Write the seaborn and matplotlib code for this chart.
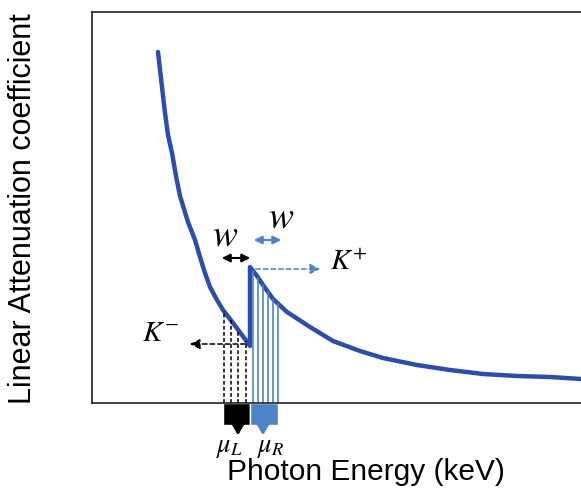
import numpy as np
import matplotlib
matplotlib.use("Agg")
import matplotlib.pyplot as plt
import seaborn as sns

# ---- data (arbitrary units) ----
left_E = [66, 70, 73, 76, 80, 84, 88, 96, 103, 108, 113, 118, 125, 131, 141, 150, 158]
left_mu = [351, 316, 290, 268, 250, 227, 207, 181, 163, 146, 130, 116, 103, 93, 80, 68, 57]
right_E = [158, 165, 171, 181, 195, 218, 241, 268, 291, 325, 358, 391, 425, 458, 489]
right_mu = [136, 127, 118, 104, 91, 76, 62, 52, 45, 38, 33, 29, 27, 26, 24]
left_bins = [132, 139, 146, 154]
right_bins = [161, 166, 171, 176, 181, 186]
box_L = (131, 158)
box_R = (158, 186)

sns.set_theme(style="white")
plt.rcParams['font.family'] = ['Liberation Sans', 'DejaVu Sans']
plt.rcParams['mathtext.fontset'] = 'stix'
plt.rcParams['text.color'] = 'black'

DARK = '#2C4DAC'
LIGHT = '#4C85C6'

fig = plt.figure(figsize=(5.81, 5.01), dpi=100)
ax = fig.add_axes([92/581, 98/501, 489/581, 391/501])
ax.set_xlim(0, 489)
ax.set_ylim(0, 391)

E_all = left_E + right_E
mu_all = left_mu + right_mu
sns.lineplot(x=E_all, y=mu_all, sort=False, estimator=None, color=DARK, lw=3.2, ax=ax)
ax.lines[-1].set_solid_joinstyle('round')

# vertical bin lines
for e in left_bins:
    top = np.interp(e, left_E, left_mu)
    ax.plot([e, e], [0, top], color='black', lw=1.1, ls=(0, (2.5, 1.5)))
for e in right_bins:
    top = np.interp(e, right_E, right_mu)
    ax.plot([e, e], [0, top], color=LIGHT, lw=1.2)

# boxes below axis
ax.bar(box_L[0], -22, width=box_L[1]-box_L[0], align='edge', color='black', clip_on=False)
ax.bar(box_R[0], -22, width=box_R[1]-box_R[0], align='edge', color=LIGHT, clip_on=False)
ax.annotate('', xy=(146, -35), xytext=(146, -21), annotation_clip=False,
            arrowprops=dict(arrowstyle='-|>,head_width=0.35,head_length=0.6', color='black', lw=2))
ax.annotate('', xy=(171, -35), xytext=(171, -21), annotation_clip=False,
            arrowprops=dict(arrowstyle='-|>,head_width=0.35,head_length=0.6', color=LIGHT, lw=2))
ax.text(138, -45, r'$\mu_L$', fontsize=19, ha='center', va='center', clip_on=False)
ax.text(179, -45, r'$\mu_R$', fontsize=19, ha='center', va='center', clip_on=False)

# w arrows
ax.annotate('', xy=(127, 145), xytext=(161, 145),
            arrowprops=dict(arrowstyle='<|-|>,head_width=0.2,head_length=0.4', color='black', lw=1.5))
ax.annotate('', xy=(159, 163), xytext=(192, 163),
            arrowprops=dict(arrowstyle='<|-|>,head_width=0.2,head_length=0.4', color=LIGHT, lw=1.5))
ax.text(133, 168, r'$w$', fontsize=27, ha='center', va='center')
ax.text(189, 186, r'$w$', fontsize=27, ha='center', va='center')

# K+ / K- arrows
ax.annotate('', xy=(231, 134), xytext=(161, 134),
            arrowprops=dict(arrowstyle='-|>,head_width=0.25,head_length=0.5', color=LIGHT, lw=1.1, ls=(0, (3, 2))))
ax.text(238, 141, r'$K^{+}$', fontsize=21, ha='left', va='center')
ax.annotate('', xy=(95, 59), xytext=(156, 59),
            arrowprops=dict(arrowstyle='-|>,head_width=0.25,head_length=0.5', color='black', lw=1.1, ls=(0, (3, 2))))
ax.text(87, 70, r'$K^{-}$', fontsize=21, ha='right', va='center')

ax.set_xticks([])
ax.set_yticks([])
for s in ['left', 'top', 'bottom']:
    ax.spines[s].set_color('#222222')
    ax.spines[s].set_linewidth(1.2)
ax.spines['right'].set_visible(False)

fig.text(23/581, 1 - 209/501, 'Linear Attenuation coefficient', rotation=90,
         fontsize=22, ha='center', va='center', color='black')
fig.text(366/581, 1 - 472/501, 'Photon Energy (keV)', fontsize=21.5, ha='center', va='center',
         color='black')

fig.savefig('out.png', dpi=100)
